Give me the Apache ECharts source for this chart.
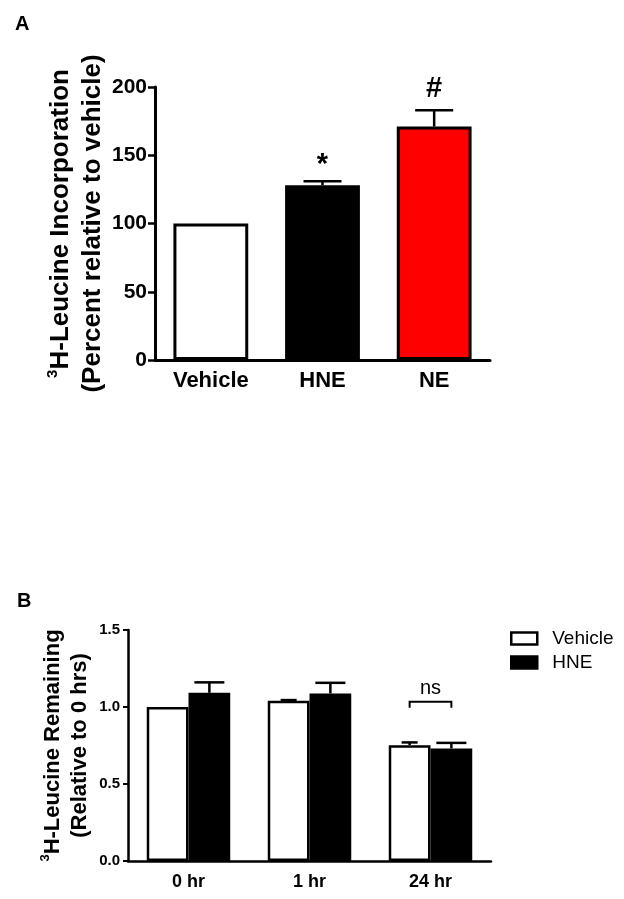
<!DOCTYPE html>
<html>
<head>
<meta charset="utf-8">
<script src="https://cdn.jsdelivr.net/npm/echarts@6/dist/echarts.min.js"></script>
<style>
  html, body { margin: 0; padding: 0; background: #fff; }
  #chart { width: 624px; height: 899px; }
</style>
</head>
<body>
<div id="chart"></div>
<script>
// panel A
const catsA = ['Vehicle', 'HNE', 'NE'];
const meanA = [100, 128, 171];
const errA = [0, 3, 12];
const markA = ['', '*', '#'];
const colorsA = ['#ffffff', '#000000', '#ff0000'];
const ticksA = [0, 50, 100, 150, 200];

// panel B
const catsB = ['0 hr', '1 hr', '24 hr'];
const vehB = [1.0, 1.04, 0.752];
const vehErrB = [0, 0.005, 0.018];
const hneB = [1.092, 1.088, 0.731];
const hneErrB = [0.068, 0.069, 0.036];
const nsB = [{ idx: 2, y: 1.034, text: 'ns' }];

const FONT = 'Liberation Sans, Arial, sans-serif';
const gapA = 0.33;
const gapB = 0.31;

let myChart = echarts.init(document.getElementById('chart'));

// error bar (upward only) on top of a bar; offset in band widths
function errBar(offset, capHalf, markSize) {
  return function (params, api) {
    const i = api.value(0), v = api.value(1), e = api.value(2);
    const bw = api.size([1, 0])[0];
    const x = api.coord([i, 0])[0] + offset * bw;
    const yTop = api.coord([i, v])[1];
    const yErr = api.coord([i, v + e])[1];
    const kids = [];
    if (e > 0) {
      kids.push({ type: 'line', shape: { x1: x, y1: yTop, x2: x, y2: yErr }, style: { stroke: '#000', lineWidth: 2.5 } });
      kids.push({ type: 'line', shape: { x1: x - capHalf, y1: yErr, x2: x + capHalf, y2: yErr }, style: { stroke: '#000', lineWidth: 2.5 } });
    }
    const mk = markA[i];
    if (markSize && mk) {
      // asterisk sits high in its em box, so push it down a little
      const dy = mk === '*' ? 16 : 21;
      kids.push({ type: 'text', style: { text: mk, x: x, y: yErr - dy, align: 'center', verticalAlign: 'middle',
        font: 'bold ' + markSize + 'px ' + FONT, fill: '#000' } });
    }
    return { type: 'group', children: kids };
  };
}

let option = {
  animation: false,
  textStyle: { fontFamily: FONT, color: '#000' },
  title: [
    { text: 'A', left: 10, top: 9, textStyle: { fontSize: 20, fontWeight: 'bold', color: '#000', fontFamily: FONT } },
    { text: 'B', left: 12, top: 586, textStyle: { fontSize: 20, fontWeight: 'bold', color: '#000', fontFamily: FONT } }
  ],
  legend: {
    data: ['Vehicle', 'HNE'],
    orient: 'vertical',
    left: 505, top: 624,
    icon: 'rect',
    itemWidth: 26, itemHeight: 12,
    itemGap: 5,
    itemStyle: { borderColor: '#000', borderWidth: 2.5 },
    textStyle: { fontSize: 19, color: '#000', fontFamily: FONT, padding: [0, 0, 0, 10] }
  },
  grid: [
    { left: 155, top: 87, width: 335, height: 273 },
    { left: 128, top: 630, width: 363, height: 231 }
  ],
  xAxis: [{
    gridIndex: 0,
    type: 'category',
    data: catsA,
    axisLine: { lineStyle: { color: '#000', width: 3 } },
    axisTick: { alignWithLabel: true, length: 6, lineStyle: { color: '#000', width: 2.5 } },
    axisLabel: { fontSize: 22, fontWeight: 'bold', color: '#000', margin: 10, fontFamily: FONT }
  }, {
    gridIndex: 1,
    type: 'category',
    data: catsB,
    axisLine: { lineStyle: { color: '#000', width: 2.5 } },
    axisTick: { alignWithLabel: true, length: 5, lineStyle: { color: '#000', width: 2 } },
    axisLabel: { fontSize: 18, fontWeight: 'bold', color: '#000', margin: 12, fontFamily: FONT }
  }],
  yAxis: [{
    gridIndex: 0,
    type: 'value',
    min: ticksA[0], max: ticksA[ticksA.length - 1], interval: 50,
    axisLine: { show: true, lineStyle: { color: '#000', width: 3 } },
    axisTick: { show: true, length: 7, lineStyle: { color: '#000', width: 2.5 } },
    splitLine: { show: false },
    axisLabel: { fontSize: 21, fontWeight: 'bold', color: '#000', margin: 8, fontFamily: FONT },
    name: '{sup|3}{t|H-Leucine Incorporation}\n{t|(Percent relative to vehicle)}',
    nameLocation: 'middle',
    nameRotate: 90,
    nameGap: 46,
    nameMoveOverlap: false,
    nameTextStyle: {
      fontFamily: FONT, fontWeight: 'bold', fontSize: 26, color: '#000', lineHeight: 32,
      rich: {
        t: { fontFamily: FONT, fontWeight: 'bold', fontSize: 26, color: '#000', lineHeight: 32 },
        sup: { fontFamily: FONT, fontWeight: 'bold', fontSize: 15, color: '#000', verticalAlign: 'top', lineHeight: 32, padding: [0, 0, 12, 0] }
      }
    }
  }, {
    gridIndex: 1,
    type: 'value',
    min: 0, max: 1.5, interval: 0.5,
    axisLine: { show: true, lineStyle: { color: '#000', width: 2.5 } },
    axisTick: { show: true, length: 5, lineStyle: { color: '#000', width: 2 } },
    splitLine: { show: false },
    axisLabel: { fontSize: 15, fontWeight: 'bold', color: '#000', margin: 8, fontFamily: FONT,
      formatter: v => v.toFixed(1) },
    name: '{sup|3}{t|H-Leucine Remaining}\n{t|(Relative to 0 hrs)}',
    nameLocation: 'middle',
    nameRotate: 90,
    nameGap: 35,
    nameMoveOverlap: false,
    nameTextStyle: {
      fontFamily: FONT, fontWeight: 'bold', fontSize: 22, color: '#000', lineHeight: 27,
      rich: {
        t: { fontFamily: FONT, fontWeight: 'bold', fontSize: 22, color: '#000', lineHeight: 27 },
        sup: { fontFamily: FONT, fontWeight: 'bold', fontSize: 13, color: '#000', verticalAlign: 'top', lineHeight: 27, padding: [0, 0, 10, 0] }
      }
    }
  }],
  series: [{
    name: 'A',
    type: 'bar',
    xAxisIndex: 0, yAxisIndex: 0,
    barCategoryGap: (gapA * 100) + '%',
    data: meanA.map((v, i) => ({ value: v, itemStyle: { color: colorsA[i] } })),
    itemStyle: { borderColor: '#000', borderWidth: 3 },
    z: 2
  }, {
    type: 'custom',
    xAxisIndex: 0, yAxisIndex: 0,
    renderItem: errBar(0, 19, 29),
    data: meanA.map((v, i) => [i, v, errA[i]]),
    z: 3
  }, {
    name: 'Vehicle',
    type: 'bar',
    xAxisIndex: 1, yAxisIndex: 1,
    barCategoryGap: (gapB * 100) + '%',
    barGap: '0%',
    data: vehB,
    itemStyle: { color: '#ffffff', borderColor: '#000', borderWidth: 2.5 },
    z: 2
  }, {
    name: 'HNE',
    type: 'bar',
    xAxisIndex: 1, yAxisIndex: 1,
    barCategoryGap: (gapB * 100) + '%',
    barGap: '0%',
    data: hneB,
    itemStyle: { color: '#000000', borderColor: '#000', borderWidth: 2.5 },
    z: 2
  }, {
    type: 'custom',
    xAxisIndex: 1, yAxisIndex: 1,
    renderItem: errBar(-(1 - gapB) / 4, 8, 0),
    data: vehB.map((v, i) => [i, v, vehErrB[i]]),
    z: 3
  }, {
    type: 'custom',
    xAxisIndex: 1, yAxisIndex: 1,
    renderItem: errBar((1 - gapB) / 4, 15, 0),
    data: hneB.map((v, i) => [i, v, hneErrB[i]]),
    z: 3
  }, {
    // "ns" bracket over the 24 hr pair
    type: 'custom',
    xAxisIndex: 1, yAxisIndex: 1,
    renderItem: function (params, api) {
      const i = api.value(0), y = api.value(1);
      const bw = api.size([1, 0])[0];
      const cx = api.coord([i, 0])[0];
      const d = (1 - gapB) / 4 * bw;
      const yy = api.coord([i, y])[1];
      return {
        type: 'group',
        children: [
          { type: 'polyline', shape: { points: [[cx - d, yy + 6], [cx - d, yy], [cx + d, yy], [cx + d, yy + 6]] },
            style: { stroke: '#000', lineWidth: 2, fill: null } },
          { type: 'text', style: { text: nsB[params.dataIndex].text, x: cx, y: yy - 3, align: 'center', verticalAlign: 'bottom',
            font: '20px ' + FONT, fill: '#000' } }
        ]
      };
    },
    data: nsB.map(d => [d.idx, d.y]),
    z: 3
  }]
};
myChart.setOption(option, true);
</script>
</body>
</html>
